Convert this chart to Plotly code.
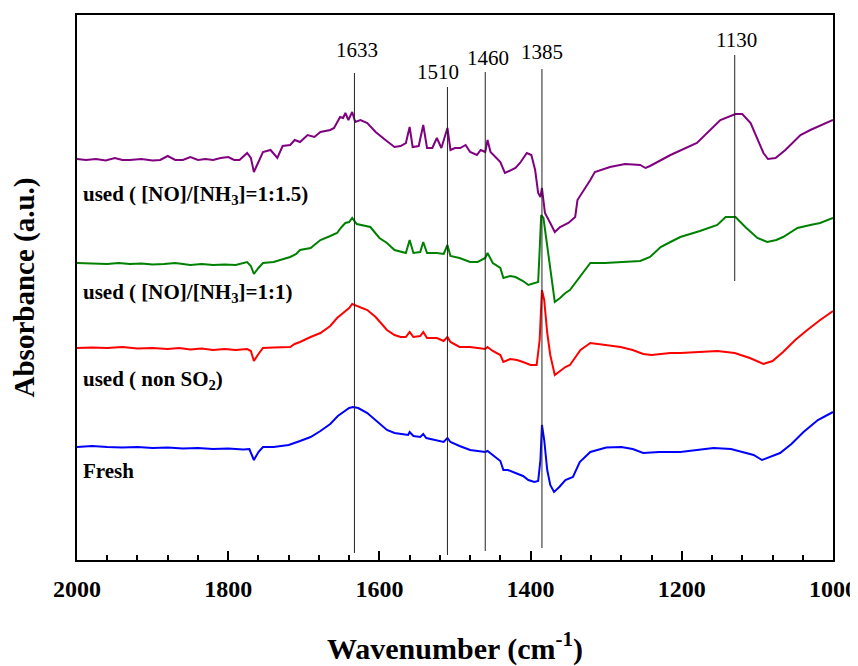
import plotly.graph_objects as go

# ---------------- data (wavenumber cm-1, absorbance a.u.) ----------------
fresh_w = [2000, 1980, 1960, 1940, 1920, 1900, 1880, 1860, 1840, 1820, 1800, 1780, 1772, 1766, 1760, 1754,
           1740, 1720, 1705, 1691, 1678, 1665, 1655, 1648, 1640, 1635, 1628, 1616, 1605, 1590, 1580, 1572,
           1562, 1560, 1555, 1546, 1542, 1538, 1525, 1515, 1510, 1506, 1494, 1480, 1470, 1460, 1457, 1450,
           1440, 1436, 1430, 1420, 1410, 1403, 1395, 1390, 1387, 1385, 1382, 1378, 1374, 1369, 1362, 1354,
           1344, 1335, 1321, 1300, 1280, 1265, 1251, 1230, 1202, 1180, 1158, 1135, 1119, 1105, 1094, 1080,
           1070, 1055, 1039, 1020, 1000]
fresh_a = [1.13, 1.14, 1.13, 1.125, 1.13, 1.12, 1.125, 1.115, 1.12, 1.11, 1.115, 1.105, 1.11, 1.00, 1.08, 1.13,
           1.13, 1.15, 1.19, 1.23, 1.29, 1.36, 1.44, 1.48, 1.52, 1.53, 1.52, 1.47, 1.40, 1.30, 1.27, 1.26,
           1.25, 1.28, 1.24, 1.23, 1.26, 1.22, 1.20, 1.18, 1.22, 1.18, 1.14, 1.10, 1.09, 1.08, 1.09, 1.05,
           0.99, 0.90, 0.90, 0.87, 0.84, 0.80, 0.78, 0.79, 1.00, 1.35, 1.20, 0.90, 0.75, 0.68, 0.73, 0.80,
           0.83, 0.98, 1.08, 1.125, 1.13, 1.11, 1.07, 1.08, 1.08, 1.10, 1.12, 1.11, 1.08, 1.05, 1.00, 1.04,
           1.07, 1.16, 1.28, 1.40, 1.48]

nonso2_w = [2000, 1980, 1960, 1940, 1920, 1900, 1880, 1865, 1850, 1835, 1820, 1805, 1790, 1775, 1770, 1766,
            1760, 1754, 1740, 1731, 1718, 1712, 1705, 1691, 1678, 1665, 1656, 1648, 1640, 1636, 1630, 1616,
            1605, 1590, 1580, 1572, 1565, 1560, 1555, 1546, 1542, 1537, 1524, 1515, 1510, 1506, 1494, 1480,
            1470, 1460, 1457, 1450, 1440, 1436, 1427, 1418, 1410, 1400, 1392, 1388, 1385, 1382, 1378, 1374,
            1368, 1360, 1354, 1348, 1340, 1334, 1321, 1310, 1295, 1281, 1265, 1251, 1240, 1215, 1202, 1175,
            1153, 1130, 1110, 1092, 1080, 1066, 1050, 1034, 1017, 1000]
nonso2_a = [2.12, 2.125, 2.12, 2.13, 2.115, 2.12, 2.11, 2.12, 2.105, 2.115, 2.10, 2.11, 2.10, 2.11, 2.09, 1.99,
            2.06, 2.12, 2.125, 2.13, 2.13, 2.16, 2.18, 2.23, 2.27, 2.34, 2.42, 2.47, 2.52, 2.56, 2.54, 2.50,
            2.43, 2.30, 2.25, 2.23, 2.23, 2.28, 2.23, 2.24, 2.28, 2.22, 2.22, 2.19, 2.23, 2.18, 2.13, 2.13,
            2.12, 2.11, 2.13, 2.09, 2.05, 1.98, 2.01, 2.00, 1.98, 1.95, 1.95, 2.20, 2.70, 2.60, 2.27, 2.05,
            1.85, 1.90, 1.93, 1.95, 2.03, 2.10, 2.17, 2.16, 2.15, 2.13, 2.10, 2.06, 2.05, 2.07, 2.07, 2.08,
            2.09, 2.07, 2.02, 1.96, 1.99, 2.08, 2.20, 2.30, 2.40, 2.49]

r11_w = [2000, 1980, 1960, 1945, 1930, 1915, 1900, 1885, 1870, 1850, 1835, 1820, 1805, 1790, 1775, 1770,
         1766, 1760, 1754, 1740, 1731, 1718, 1710, 1705, 1691, 1678, 1665, 1656, 1650, 1645, 1640, 1636,
         1630, 1625, 1612, 1600, 1590, 1580, 1572, 1565, 1560, 1555, 1546, 1542, 1537, 1524, 1515, 1510,
         1506, 1494, 1480, 1470, 1460, 1457, 1450, 1440, 1436, 1427, 1420, 1410, 1403, 1395, 1390, 1388,
         1386, 1383, 1380, 1376, 1374, 1368, 1361, 1354, 1348, 1338, 1321, 1302, 1275, 1255, 1242, 1228,
         1215, 1202, 1176, 1153, 1142, 1129, 1116, 1100, 1087, 1075, 1066, 1047, 1030, 1017, 1000]
r11_a = [2.97, 2.965, 2.96, 2.97, 2.96, 2.965, 2.955, 2.96, 2.97, 2.95, 2.96, 2.95, 2.955, 2.95, 2.98, 2.94,
         2.86, 2.92, 2.97, 2.98, 3.00, 3.03, 3.06, 3.10, 3.12, 3.20, 3.24, 3.27, 3.33, 3.37, 3.38, 3.42,
         3.36, 3.35, 3.33, 3.22, 3.17, 3.10, 3.08, 3.07, 3.20, 3.07, 3.08, 3.18, 3.07, 3.07, 3.06, 3.15,
         3.04, 3.02, 2.98, 2.98, 3.02, 3.07, 2.97, 2.92, 2.82, 2.84, 2.83, 2.79, 2.75, 2.77, 2.78, 3.10,
         3.45, 3.42, 3.25, 3.00, 2.87, 2.58, 2.62, 2.67, 2.70, 2.80, 2.97, 2.97, 2.98, 2.99, 3.03, 3.13,
         3.18, 3.23, 3.29, 3.35, 3.43, 3.43, 3.33, 3.22, 3.18, 3.20, 3.23, 3.32, 3.35, 3.37, 3.42]

r115_w = [2000, 1988, 1975, 1962, 1950, 1940, 1930, 1915, 1900, 1890, 1880, 1870, 1860, 1850, 1840, 1830,
          1820, 1810, 1800, 1792, 1785, 1775, 1770, 1766, 1760, 1754, 1744, 1735, 1728, 1718, 1712, 1705,
          1695, 1686, 1678, 1665, 1660, 1655, 1652, 1648, 1645, 1641, 1636, 1632, 1625, 1616, 1605, 1592,
          1580, 1572, 1565, 1560, 1556, 1548, 1542, 1537, 1530, 1524, 1518, 1510, 1506, 1500, 1493, 1486,
          1480, 1471, 1466, 1460, 1457, 1453, 1440, 1434, 1425, 1420, 1414, 1405, 1399, 1394, 1390, 1387,
          1385, 1381, 1374, 1368, 1361, 1350, 1341, 1338, 1321, 1315, 1295, 1275, 1255, 1248, 1242, 1228,
          1215, 1180, 1162, 1149, 1129, 1120, 1109, 1100, 1092, 1086, 1076, 1063, 1043, 1030, 1017, 1000]
r115_a = [4.01, 4.00, 4.01, 3.995, 4.02, 4.00, 4.00, 4.01, 3.995, 4.00, 4.04, 4.00, 4.00, 4.03, 4.00, 4.01,
          4.00, 4.02, 4.03, 4.00, 4.00, 4.07, 4.02, 3.88, 3.98, 4.08, 4.10, 4.02, 4.14, 4.15, 4.20, 4.18,
          4.25, 4.23, 4.28, 4.30, 4.32, 4.38, 4.43, 4.42, 4.47, 4.40, 4.48, 4.38, 4.40, 4.37, 4.28, 4.20,
          4.13, 4.14, 4.17, 4.33, 4.13, 4.14, 4.35, 4.12, 4.12, 4.22, 4.12, 4.32, 4.10, 4.12, 4.12, 4.15,
          4.08, 4.05, 4.10, 4.08, 4.20, 4.08, 3.98, 3.87, 3.90, 3.92, 3.97, 4.07, 4.05, 3.90, 3.67, 3.63,
          3.72, 3.47, 3.37, 3.28, 3.33, 3.37, 3.43, 3.60, 3.80, 3.88, 3.93, 3.96, 3.95, 3.92, 3.94, 4.00,
          4.05, 4.17, 4.30, 4.40, 4.46, 4.46, 4.37, 4.22, 4.07, 4.01, 4.02, 4.10, 4.25, 4.30, 4.34, 4.40]

series_names = ["Fresh", "used ( non SO<sub>2</sub>)", "used ( [NO]/[NH<sub>3</sub>]=1:1)",
                "used ( [NO]/[NH<sub>3</sub>]=1:1.5)"]
series_colors = ["#0000ff", "#ff0000", "#008000", "#800080"]
series_w = [fresh_w, nonso2_w, r11_w, r115_w]
series_a = [fresh_a, nonso2_a, r11_a, r115_a]
label_a = [0.89, 1.80, 2.67, 3.65]

peaks = [1633, 1510, 1460, 1385, 1130]
peak_line_top = [4.87, 4.73, 4.88, 4.91, 5.05]
peak_line_bottom = [0.07, 0.05, 0.09, 0.12, 2.79]
peak_label_x = [1629, 1522, 1457, 1385, 1127]
peak_label_a = [5.10, 4.88, 5.02, 5.08, 5.20]

x_ticks = [2000, 1800, 1600, 1400, 1200, 1000]

FONT = "Liberation Serif, Times New Roman, serif"

fig = go.Figure()
for w, a, c, n in zip(series_w, series_a, series_colors, series_names):
    fig.add_trace(go.Scatter(x=w, y=a, mode="lines", line=dict(color=c, width=2), name=n,
                             showlegend=False, hoverinfo="skip"))

shapes = []
annotations = []
for p, t, b, lx, la in zip(peaks, peak_line_top, peak_line_bottom, peak_label_x, peak_label_a):
    shapes.append(dict(type="line", xref="x", yref="y", x0=p, x1=p, y0=b, y1=t,
                       line=dict(color="#222222", width=1)))
    annotations.append(dict(x=lx, y=la, xref="x", yref="y", text=str(p), showarrow=False,
                            font=dict(family=FONT, size=21, color="black"), xanchor="center", yanchor="middle"))

for n, la in zip(series_names, label_a):
    annotations.append(dict(x=1995, y=la, xref="x", yref="y", text="<b>" + n + "</b>", showarrow=False,
                            font=dict(family=FONT, size=21, color="black"), xanchor="left", yanchor="middle"))

# the page body adds an 8 px offset, so the figure is 8 px smaller than the window
fig.update_layout(
    width=850, height=658,
    margin=dict(l=69, r=25, t=7, b=106),
    paper_bgcolor="white", plot_bgcolor="white",
    shapes=shapes, annotations=annotations,
    font=dict(family=FONT, color="black"),
)
fig.update_xaxes(
    range=[2000, 1000], tickvals=x_ticks, ticktext=["<b>%d</b>" % v for v in x_ticks],
    ticks="inside", ticklen=9, tickwidth=2, tickcolor="black",
    minor=dict(dtick=40, tick0=2000, ticks="inside", ticklen=5, tickwidth=2, tickcolor="black"),
    showline=True, linecolor="black", linewidth=2, mirror=True,
    showgrid=False, zeroline=False, automargin=False, ticklabelstandoff=6,
    tickfont=dict(family=FONT, size=24, color="black"),
    title=dict(text="<b>Wavenumber (cm<sup>-1</sup>)</b>", font=dict(family=FONT, size=30, color="black"),
               standoff=40),
)
fig.update_yaxes(
    range=[0, 5.45], showticklabels=False, ticks="",
    showline=True, linecolor="black", linewidth=2, mirror=True,
    showgrid=False, zeroline=False, automargin=False,
    title=dict(text="<b>Absorbance (a.u.)</b>", font=dict(family=FONT, size=29, color="black"),
               standoff=33),
)

fig.write_html("out.html")
